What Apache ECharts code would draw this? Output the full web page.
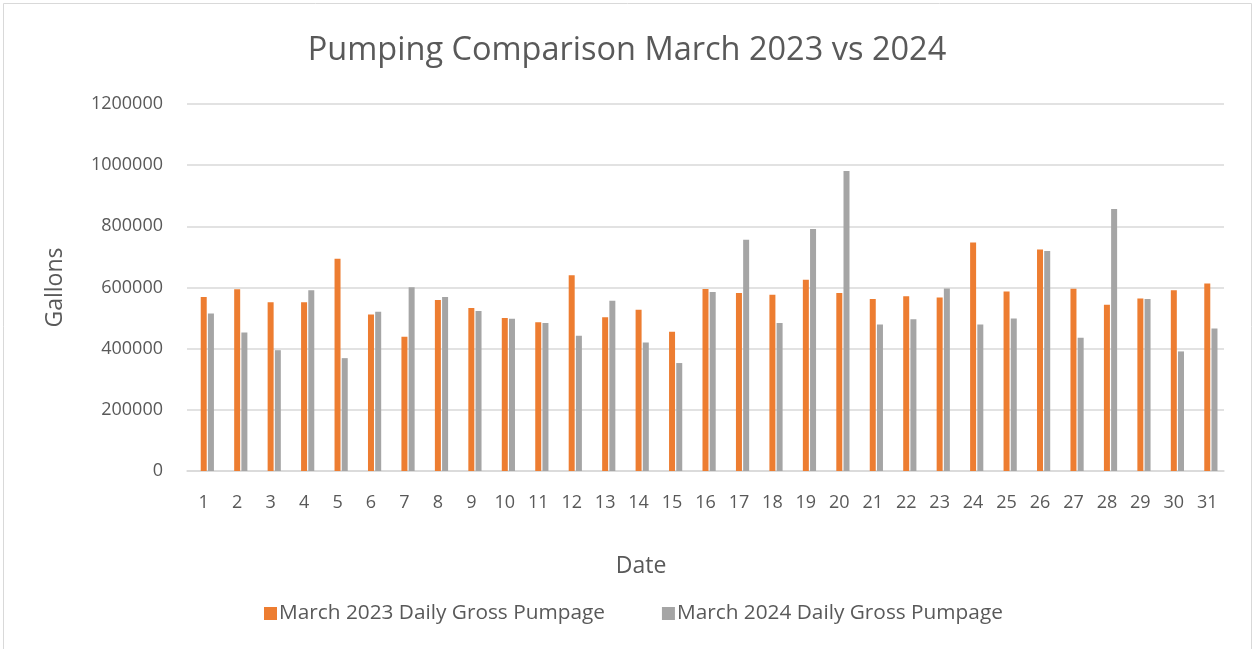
<!DOCTYPE html>
<html>
<head>
<meta charset="utf-8">
<script src="https://cdn.jsdelivr.net/npm/echarts@6/dist/echarts.min.js"></script>
<style>
  html, body { margin: 0; padding: 0; background: #fff; }
  #chart { width: 1254px; height: 649px; }
</style>
</head>
<body>
<div id="chart"></div>
<script>
// dates 1..31
var days = [];
for (var d = 1; d <= 31; d++) days.push(String(d));

var pump2023 = [569000, 594000, 552000, 552000, 694000, 512000, 439000, 559000, 533000, 500000,
	486000, 640000, 503000, 527000, 455000, 595000, 582000, 576000, 625000, 582000,
	562000, 571000, 567000, 747000, 587000, 724000, 596000, 544000, 564000, 591000, 613000];

var pump2024 = [515000, 453000, 395000, 591000, 369000, 521000, 601000, 569000, 523000, 498000,
	484000, 442000, 557000, 420000, 353000, 585000, 756000, 484000, 791000, 981000,
	479000, 496000, 597000, 479000, 499000, 719000, 436000, 857000, 562000, 391000, 466000];

var yTicks = [0, 200000, 400000, 600000, 800000, 1000000, 1200000];

var txt = '#595959';
var font = 'Open Sans';
var myChart = echarts.init(document.getElementById('chart'));

option = {
	animation: false,
	textStyle: { fontFamily: font },
	title: {
		text: 'Pumping Comparison March 2023 vs 2024',
		left: 'center',
		top: 29,
		textStyle: { color: txt, fontSize: 32.5, fontWeight: 'normal', fontFamily: font }
	},
	legend: {
		data: ['March 2023 Daily Gross Pumpage', 'March 2024 Daily Gross Pumpage'],
		left: 259,
		top: 598,
		icon: 'rect',
		itemWidth: 13,
		itemHeight: 13,
		itemGap: 57,
		textStyle: { color: txt, fontSize: 20.8, fontFamily: font, padding: [0, 0, 0, -3] }
	},
	grid: { left: 187, right: 30, top: 104, bottom: 178, containLabel: false },
	xAxis: {
		type: 'category',
		data: days,
		name: 'Date',
		nameLocation: 'middle',
		nameGap: 84,
		nameTextStyle: { color: txt, fontSize: 23, fontFamily: font, padding: [0, 129, 0, 0] },
		axisLine: { lineStyle: { color: '#d9d9d9', width: 1.5 } },
		axisTick: { show: false },
		axisLabel: { color: txt, fontSize: 18, margin: 23, interval: 0, fontFamily: font }
	},
	yAxis: {
		type: 'value',
		min: yTicks[0],
		max: yTicks[yTicks.length - 1],
		interval: yTicks[1] - yTicks[0],
		name: 'Gallons',
		nameLocation: 'middle',
		nameGap: 120,
		nameRotate: 90,
		nameTextStyle: { color: txt, fontSize: 23, fontFamily: font },
		axisLine: { show: false },
		axisTick: { show: false },
		splitLine: { lineStyle: { color: '#d9d9d9', width: 1.5 } },
		axisLabel: {
			color: txt, fontSize: 18, margin: 24, fontFamily: font,
			formatter: function (v) { return String(v); }
		}
	},
	graphic: [{
		type: 'rect',
		shape: { x: 3.5, y: 3.5, width: 1248, height: 660 },
		style: { fill: 'none', stroke: '#d9d9d9', lineWidth: 1 },
		silent: true
	}],
	series: [
		// empty date series, keeps the slot to the left of the two bars
		{ name: 'Date', type: 'bar', data: [], barWidth: 6, barGap: '20%' },
		{ name: 'March 2023 Daily Gross Pumpage', type: 'bar', data: pump2023, barWidth: 6, barGap: '20%',
			itemStyle: { color: '#ED7D31' } },
		{ name: 'March 2024 Daily Gross Pumpage', type: 'bar', data: pump2024, barWidth: 6, barGap: '20%',
			itemStyle: { color: '#A5A5A5' } }
	]
};

myChart.setOption(option);
</script>
</body>
</html>
